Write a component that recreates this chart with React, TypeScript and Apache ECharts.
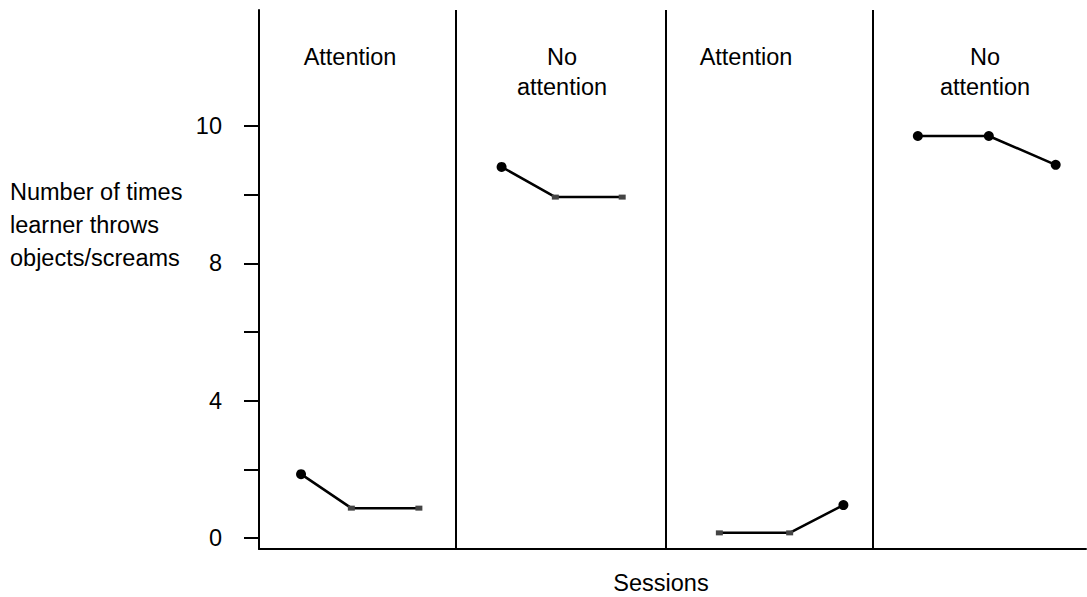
import React, { useEffect, useRef } from "react";
import * as echarts from "echarts";

// ---- data ----
const PHASE_NAMES = ["Attention", "No\nattention", "Attention", "No\nattention"];
// session positions along the x axis, per phase
const PHASE1_X = [0.61, 1.34, 2.32];
const PHASE2_X = [3.52, 4.3, 5.27];
const PHASE3_X = [6.68, 7.7, 8.48];
const PHASE4_X = [9.56, 10.59, 11.56];
// responses (in the axis' drawn units: one tick = 2 units)
const PHASE1_Y = [1.86, 0.87, 0.87];
const PHASE2_Y = [10.81, 9.93, 9.93];
const PHASE3_Y = [0.15, 0.15, 0.96];
const PHASE4_Y = [11.71, 11.71, 10.87];
// boundaries between phases
const PHASE_BOUNDARIES = [2.86, 5.9, 8.91];
// y axis ticks and their printed labels
const Y_TICK_VALUES = [0, 2, 4, 6, 8, 10, 12];
const Y_TICK_LABELS = ["0", "", "4", "", "8", "", "10"];
const Y_LABEL_VALUES = [0, 4, 8, 12];

// ---- styles ----
const MARKERS = [
  ["dot", "dash", "dash"],
  ["dot", "dash", "dash"],
  ["dash", "dash", "dot"],
  ["dot", "dot", "dot"],
];
const PHASE_LABEL_X = [350, 562, 746, 985];
const FONT = "'Liberation Sans', Arial, Helvetica, sans-serif";
const FS = 23.5;

export default function App() {
  const ref = useRef<HTMLDivElement>(null);
  useEffect(() => {
    const chart = echarts.init(ref.current!, null, { renderer: "svg" });
    const xs = [PHASE1_X, PHASE2_X, PHASE3_X, PHASE4_X];
    const ys = [PHASE1_Y, PHASE2_Y, PHASE3_Y, PHASE4_Y];
    const series: any[] = xs.map((px, p) => ({
      type: "line",
      silent: true,
      data: px.map((x, i) => {
        const dot = MARKERS[p][i] === "dot";
        return {
          value: [x, ys[p][i]],
          symbol: dot ? "circle" : "rect",
          symbolSize: dot ? 10 : [7, 5],
          itemStyle: { color: dot ? "#000" : "#444" },
        };
      }),
      showSymbol: true,
      lineStyle: { color: "#000", width: 2.5 },
      itemStyle: { color: "#000" },
      ...(p === 0
        ? {
            markLine: {
              silent: true,
              symbol: ["none", "none"],
              label: { show: false },
              lineStyle: { color: "#000", width: 2, type: "solid" },
              emphasis: { disabled: true },
              data: PHASE_BOUNDARIES.map((b) => ({ xAxis: b })),
            },
          }
        : {}),
    }));

    const graphic: any[] = PHASE_NAMES.map((name, i) => ({
      type: "text",
      x: PHASE_LABEL_X[i],
      y: 42,
      style: {
        text: name,
        fill: "#000",
        font: `${FS}px ${FONT}`,
        lineHeight: 30,
        align: "center",
        verticalAlign: "top",
      },
    }));
    graphic.push({
      type: "text",
      x: 10,
      y: 175,
      style: {
        text: "Number of times\nlearner throws\nobjects/screams",
        fill: "#000",
        font: `${FS}px ${FONT}`,
        lineHeight: 33,
        align: "left",
        verticalAlign: "top",
      },
    });
    graphic.push({
      type: "text",
      x: 661,
      y: 583,
      style: {
        text: "Sessions",
        fill: "#000",
        font: `${FS}px ${FONT}`,
        align: "center",
        verticalAlign: "middle",
      },
    });

    chart.setOption({
      animation: false,
      textStyle: { fontFamily: FONT },
      grid: {
        left: 259,
        right: 1,
        top: 10,
        bottom: 48,
        containLabel: false,
        outerBoundsMode: "none",
      },
      xAxis: {
        type: "value",
        min: 0,
        max: 12,
        axisLine: { show: true, onZero: false, lineStyle: { color: "#000", width: 2 } },
        axisTick: { show: false },
        axisLabel: { show: false },
        splitLine: { show: false },
      },
      yAxis: {
        type: "value",
        min: -0.32,
        max: 15.38,
        axisLine: { show: true, onZero: false, lineStyle: { color: "#000", width: 2 } },
        axisTick: {
          show: true,
          length: 15,
          customValues: Y_TICK_VALUES,
          lineStyle: { color: "#000", width: 2 },
        },
        axisLabel: {
          show: true,
          customValues: Y_LABEL_VALUES,
          margin: 37,
          color: "#000",
          fontSize: FS,
          fontFamily: FONT,
          formatter: (v: number) => {
            const k = Y_TICK_VALUES.indexOf(v);
            return k >= 0 ? Y_TICK_LABELS[k] : "";
          },
        },
        splitLine: { show: false },
      },
      series,
      graphic,
    });
    return () => chart.dispose();
  }, []);
  return (
    <div
      ref={ref}
      style={{ position: "fixed", left: 0, top: 0, width: 1087, height: 597, background: "#fff" }}
    />
  );
}
